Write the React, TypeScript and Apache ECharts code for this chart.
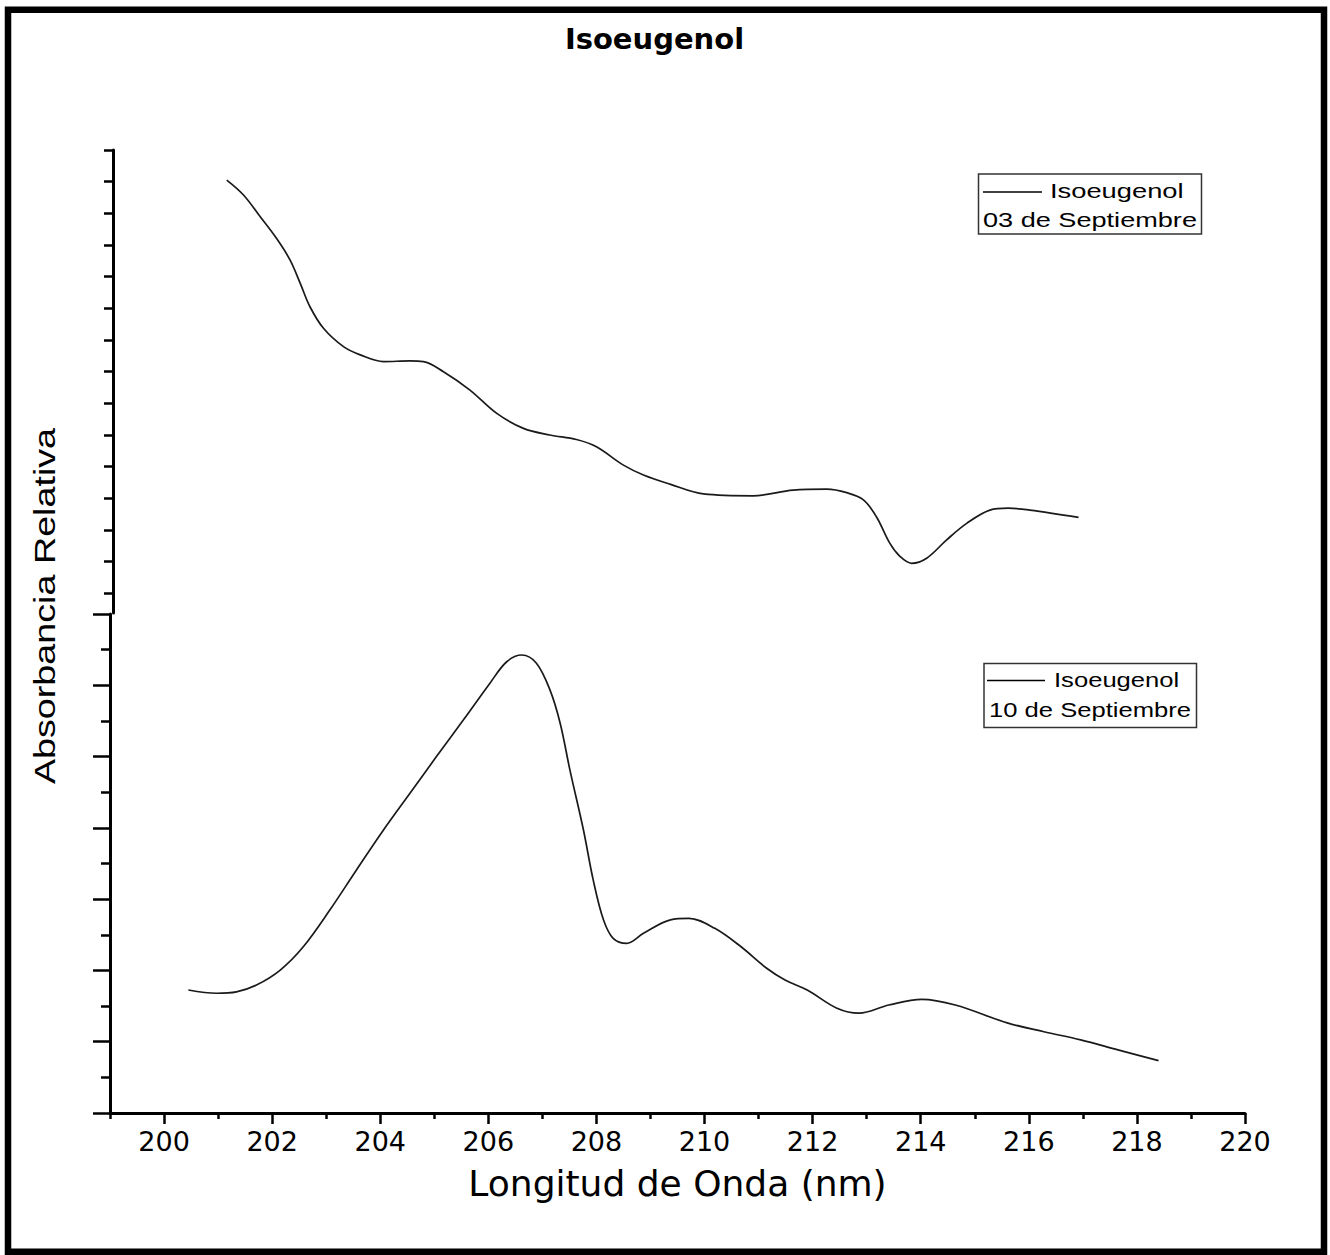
import React, { useEffect, useRef } from "react";
import * as echarts from "echarts";

// Upper panel: spectrum of 03 de Septiembre (wavelength nm / relative absorbance)
const wavelength03 = [201.16, 201.47, 201.78, 202.08, 202.33, 202.52, 202.7, 202.95, 203.32, 203.63, 204.06, 204.55, 204.8, 205.17, 205.66, 206.15, 206.65, 207.14, 207.63, 208.0, 208.5, 208.87, 209.36, 209.98, 210.9, 211.64, 212.26, 212.63, 212.94, 213.18, 213.43, 213.62, 213.83, 214.11, 214.48, 214.85, 215.28, 215.62, 216.02, 216.92];
const absorb03 = [1.367, 1.32, 1.251, 1.183, 1.115, 1.041, 0.967, 0.899, 0.841, 0.815, 0.794, 0.796, 0.794, 0.762, 0.704, 0.631, 0.583, 0.562, 0.548, 0.525, 0.467, 0.436, 0.407, 0.376, 0.37, 0.388, 0.391, 0.38, 0.357, 0.304, 0.22, 0.178, 0.157, 0.173, 0.231, 0.283, 0.325, 0.331, 0.325, 0.302];

// Lower panel: spectrum of 10 de Septiembre
const wavelength10 = [200.45, 200.97, 201.34, 201.71, 202.15, 202.58, 203.07, 203.56, 204.06, 204.55, 205.04, 205.54, 206.03, 206.34, 206.62, 206.89, 207.14, 207.33, 207.51, 207.76, 207.94, 208.13, 208.31, 208.56, 208.87, 209.37, 209.71, 210.19, 210.67, 211.15, 211.49, 211.9, 212.45, 212.86, 213.41, 214.02, 214.64, 215.6, 216.28, 216.96, 217.65, 218.4];
const absorb10 = [0.345, 0.336, 0.34, 0.359, 0.401, 0.467, 0.57, 0.682, 0.794, 0.897, 1.0, 1.103, 1.206, 1.266, 1.285, 1.262, 1.187, 1.093, 0.962, 0.794, 0.654, 0.542, 0.49, 0.476, 0.504, 0.542, 0.546, 0.518, 0.467, 0.406, 0.373, 0.345, 0.294, 0.28, 0.303, 0.319, 0.303, 0.253, 0.228, 0.205, 0.177, 0.147];

// Axis ticks
const xMajorTicks = [200, 202, 204, 206, 208, 210, 212, 214, 216, 218, 220];
const xMinorTicks = [199, 201, 203, 205, 207, 209, 211, 213, 215, 217, 219];
const TOP_MAX = 1.462;
const topTicks = [1.462, 1.362, 1.262, 1.162, 1.062, 0.962, 0.862, 0.762, 0.662, 0.562, 0.462, 0.362, 0.262, 0.162, 0.062];

const TITLE = "Isoeugenol";
const SERIES_03 = "Isoeugenol 03 de Septiembre";
const SERIES_10 = "Isoeugenol 10 de Septiembre";

export default function App() {
  const ref = useRef<HTMLDivElement>(null);

  useEffect(() => {
    if (!ref.current) return;
    const chart = echarts.init(ref.current, null, { renderer: "svg" });
    const black = "#000";
    const sans = "DejaVu Sans";
    const arial = "Liberation Sans";

    chart.setOption({
      animation: false,
      backgroundColor: "#fff",
      title: {
        text: TITLE,
        left: 654.5,
        top: 24,
        textAlign: "center",
        padding: 0,
        textStyle: { fontFamily: sans, fontWeight: "bold", fontSize: 29, color: black },
      },
      grid: [
        { left: 110, top: 150, width: 1135, height: 463, containLabel: false },
        { left: 110, top: 614, width: 1135, height: 499, containLabel: false },
      ],
      xAxis: [
        { gridIndex: 0, type: "value", min: 199, max: 220, show: false },
        {
          gridIndex: 1,
          type: "value",
          min: 199,
          max: 220,
          position: "bottom",
          axisLine: { show: true, onZero: false, lineStyle: { color: black, width: 3 } },
          axisTick: { show: true, length: 11, customValues: xMajorTicks, lineStyle: { color: black, width: 2.5 } },
          axisLabel: { show: true, customValues: xMajorTicks, margin: 15, fontFamily: sans, fontSize: 27, color: black },
          splitLine: { show: false },
          name: "Longitud de Onda (nm)",
          nameLocation: "middle",
          nameGap: 52,
          nameTextStyle: { fontFamily: sans, fontSize: 36, color: black },
        },
        {
          gridIndex: 1,
          type: "value",
          min: 199,
          max: 220,
          position: "bottom",
          axisLine: { show: false },
          axisTick: { show: true, length: 6, customValues: xMinorTicks, lineStyle: { color: black, width: 2.5 } },
          axisLabel: { show: false },
          splitLine: { show: false },
        },
      ],
      yAxis: [
        {
          gridIndex: 0,
          type: "value",
          min: 0,
          max: TOP_MAX,
          offset: -3,
          axisLine: { show: true, onZero: false, lineStyle: { color: black, width: 3 } },
          axisTick: { show: true, length: 9, customValues: topTicks, lineStyle: { color: black, width: 2.5 } },
          axisLabel: { show: false },
          splitLine: { show: false },
        },
        {
          gridIndex: 1,
          type: "value",
          min: 0,
          max: 1.4,
          interval: 0.2,
          axisLine: { show: true, onZero: false, lineStyle: { color: black, width: 3 } },
          axisTick: { show: true, length: 17, lineStyle: { color: black, width: 2.5 } },
          minorTick: { show: true, splitNumber: 2, length: 9, lineStyle: { color: black, width: 2.5 } },
          axisLabel: { show: false },
          splitLine: { show: false },
          minorSplitLine: { show: false },
        },
      ],
      series: [
        {
          name: SERIES_03,
          type: "line",
          xAxisIndex: 0,
          yAxisIndex: 0,
          data: wavelength03.map((w, i) => [w, absorb03[i]]),
          showSymbol: false,
          smooth: 0.35,
          lineStyle: { color: "#1a1a1a", width: 1.7 },
        },
        {
          name: SERIES_10,
          type: "line",
          xAxisIndex: 1,
          yAxisIndex: 1,
          data: wavelength10.map((w, i) => [w, absorb10[i]]),
          showSymbol: false,
          smooth: 0.35,
          lineStyle: { color: "#1a1a1a", width: 1.7 },
        },
      ],
      graphic: [
        {
          type: "rect",
          shape: { x: 8, y: 9.7, width: 1316, height: 1242 },
          style: { fill: "none", stroke: black, lineWidth: 6.5 },
          silent: true,
        },
        {
          type: "text",
          x: 45,
          y: 606,
          rotation: Math.PI / 2,
          scaleX: 1.3,
          style: { text: "Absorbancia Relativa", fontFamily: arial, fontSize: 29, fill: black, align: "center", verticalAlign: "middle" },
        },
        // legend box, upper panel
        { type: "rect", shape: { x: 978.5, y: 174, width: 223, height: 60 }, style: { fill: "#fff", stroke: "#333", lineWidth: 1.5 }, z: 10 },
        { type: "line", shape: { x1: 983, y1: 192, x2: 1042, y2: 192 }, style: { stroke: black, lineWidth: 1.5 }, z: 11 },
        {
          type: "text", x: 1050, y: 191, scaleX: 1.4, z: 11,
          style: { text: "Isoeugenol", fontFamily: arial, fontSize: 19.5, fill: black, align: "left", verticalAlign: "middle" },
        },
        {
          type: "text", x: 983, y: 220, scaleX: 1.39, z: 11,
          style: { text: "03 de Septiembre", fontFamily: arial, fontSize: 19.5, fill: black, align: "left", verticalAlign: "middle" },
        },
        // legend box, lower panel
        { type: "rect", shape: { x: 984, y: 663.5, width: 212.5, height: 64 }, style: { fill: "#fff", stroke: "#333", lineWidth: 1.5 }, z: 10 },
        { type: "line", shape: { x1: 987, y1: 680.5, x2: 1045, y2: 680.5 }, style: { stroke: black, lineWidth: 1.5 }, z: 11 },
        {
          type: "text", x: 1054, y: 680, scaleX: 1.28, z: 11,
          style: { text: "Isoeugenol", fontFamily: arial, fontSize: 20, fill: black, align: "left", verticalAlign: "middle" },
        },
        {
          type: "text", x: 989, y: 710, scaleX: 1.28, z: 11,
          style: { text: "10 de Septiembre", fontFamily: arial, fontSize: 20, fill: black, align: "left", verticalAlign: "middle" },
        },
      ],
    });

    return () => chart.dispose();
  }, []);

  return (
    <div
      ref={ref}
      style={{ position: "absolute", left: 0, top: 0, width: 1330, height: 1255, background: "#fff" }}
    />
  );
}
